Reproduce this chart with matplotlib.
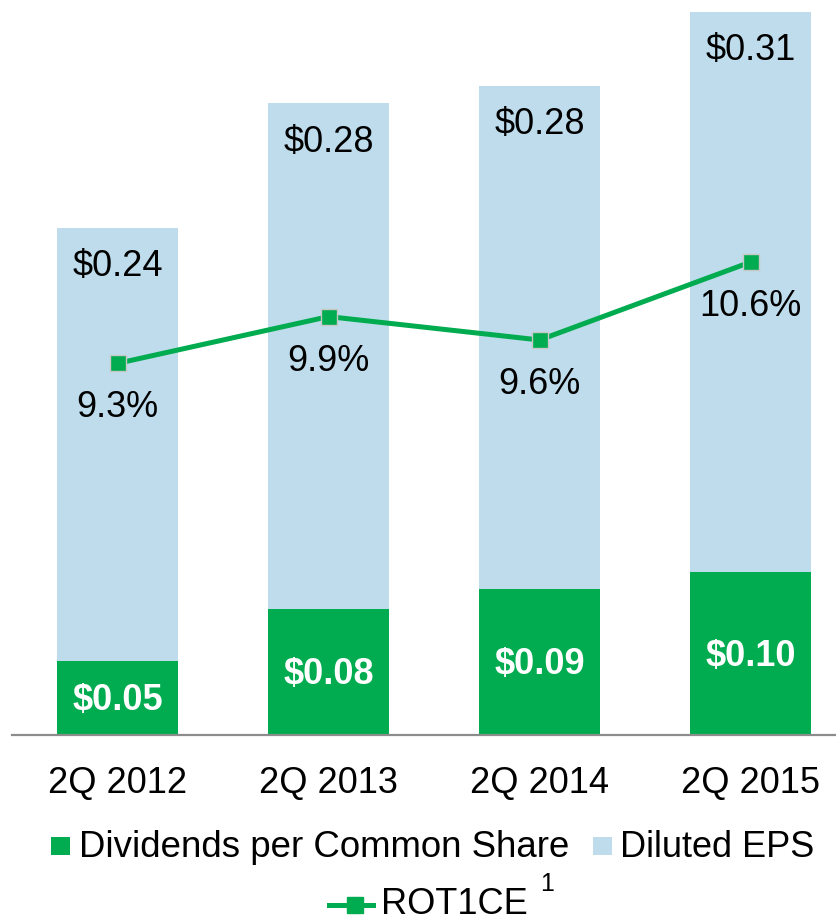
import matplotlib
matplotlib.use("Agg")
import matplotlib.pyplot as plt
from matplotlib.patches import Rectangle
from matplotlib.lines import Line2D

plt.rcParams['font.family'] = ['Liberation Sans', 'DejaVu Sans']

# ---- data ----
categories = ["2Q 2012", "2Q 2013", "2Q 2014", "2Q 2015"]
dividends = [0.042, 0.072, 0.083, 0.093]          # bar heights (estimated)
diluted_eps = [0.247, 0.288, 0.287, 0.319]        # stacked on dividends (estimated)
div_labels = ["$0.05", "$0.08", "$0.09", "$0.10"]
eps_labels = ["$0.24", "$0.28", "$0.28", "$0.31"]
rotce = [9.3, 9.9, 9.6, 10.6]
rotce_labels = ["9.3%", "9.9%", "9.6%", "10.6%"]

GREEN = "#00AC4F"
BLUE = "#BEDCEC"

W, H = 836, 921
fig = plt.figure(figsize=(W / 100, H / 100), dpi=100)

def fx(x):
    return x / W

def fy(y):
    return 1 - y / H

base_y = 735
ax = fig.add_axes([fx(12), fy(base_y), (W - 12) / W, base_y / H])
x = list(range(len(categories)))
bw = 0.573
ax.bar(x, dividends, width=bw, color=GREEN, zorder=2)
ax.bar(x, diluted_eps, width=bw, bottom=dividends, color=BLUE, zorder=2)
ax.set_xlim(-0.5, 3.404)
ax.set_ylim(0, 0.4188)

for xi, d, e, dl, el in zip(x, dividends, diluted_eps, div_labels, eps_labels):
    ax.annotate(dl, (xi, d / 2), xytext=(0, -2), textcoords="offset points",
                ha="center", va="center", color="white",
                fontsize=26, fontweight="bold", zorder=5)
    ax.annotate(el, (xi, d + e), xytext=(0, -28), textcoords="offset points",
                ha="center", va="center", fontsize=26, color="black", zorder=5)

for s in ["top", "left", "right"]:
    ax.spines[s].set_visible(False)
ax.spines["bottom"].set_color("#8C8C8C")
ax.spines["bottom"].set_linewidth(1.6)
ax.set_yticks([])
ax.set_xticks(x)
ax.set_xticklabels(categories, fontsize=26)
ax.tick_params(axis="x", length=0, pad=22)

ax2 = ax.twinx()
ax2.set_ylim(4.533, 13.961)
ax2.plot(x, rotce, color=GREEN, lw=3.6, marker="s", markersize=11,
         markerfacecolor=GREEN, markeredgecolor="#C8C8C8", markeredgewidth=1.0, zorder=4)
for xi, v, lab in zip(x, rotce, rotce_labels):
    ax2.annotate(lab, (xi, v), xytext=(0, -32), textcoords="offset points",
                 ha="center", va="center", fontsize=26, color="black")
ax2.axis("off")

# ---- legend (manual) ----
fig.patches.append(Rectangle((fx(51), fy(855)), 19 / W, 18 / H, transform=fig.transFigure,
                             facecolor=GREEN, edgecolor="none"))
fig.text(fx(79), fy(847), "Dividends per Common Share", fontsize=26.4, ha="left", va="center")
fig.patches.append(Rectangle((fx(593), fy(855)), 19 / W, 18 / H, transform=fig.transFigure,
                             facecolor=BLUE, edgecolor="none"))
fig.text(fx(620), fy(847), "Diluted EPS", fontsize=26, ha="left", va="center")
fig.lines.append(Line2D([fx(329), fx(373)], [fy(905), fy(905)], transform=fig.transFigure,
                        color=GREEN, lw=3.6))
fig.lines.append(Line2D([fx(355)], [fy(905)], transform=fig.transFigure, color=GREEN,
                        marker="s", markersize=11, markerfacecolor=GREEN, markeredgecolor=GREEN))
fig.text(fx(381), fy(904), "ROT1CE", fontsize=26, ha="left", va="center")
fig.text(fx(540), fy(884), "1", fontsize=18, ha="left", va="center")

fig.savefig("out.png", dpi=100)
